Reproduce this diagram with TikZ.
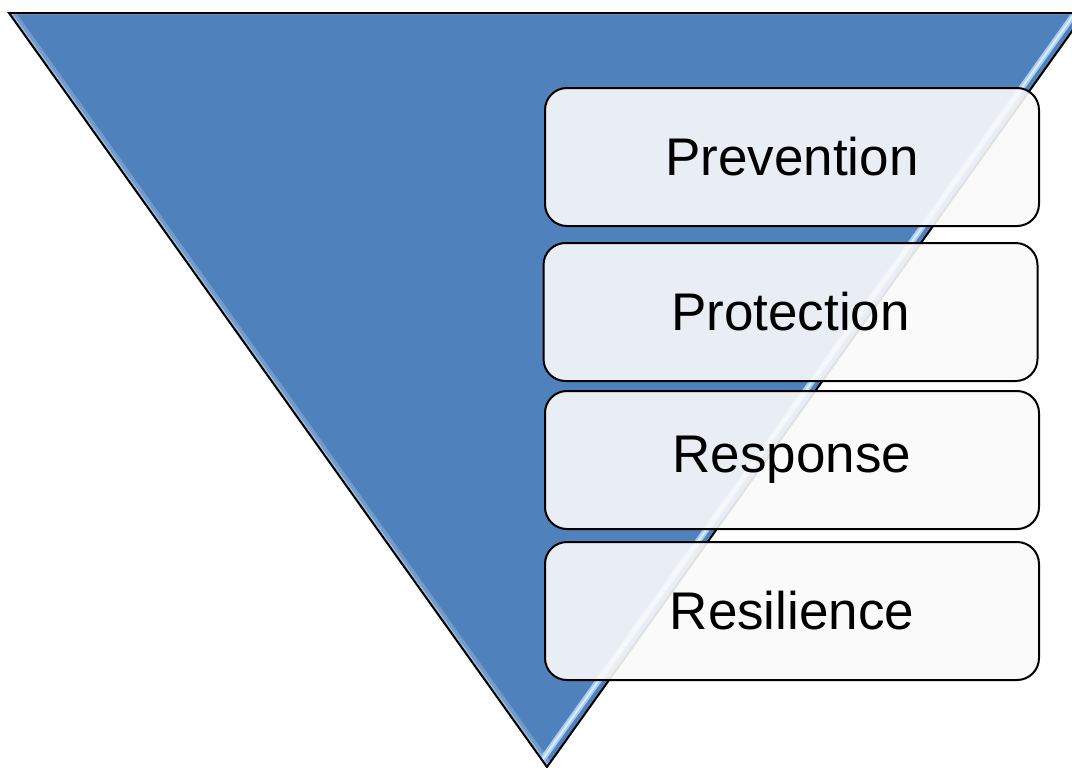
\documentclass[tikz,border=0pt]{standalone}
\usepackage{fontspec}
\setmainfont{Liberation Sans}
\usetikzlibrary{positioning}
\definecolor{funnelBlue}{HTML}{4F81BD}
\definecolor{glint}{HTML}{A9CDF2}
\tikzstyle{layer} = [
    rectangle,
    draw,
    line width = 1pt,
    fill = white!98!black,
    fill opacity = 0.9,
    text opacity = 1,
    text centered,
    rounded corners = 11pt,
    minimum width = 247pt,
    minimum height = 69pt,
    font = \fontsize{26.5}{30}\selectfont
]
\tikzstyle{edge} = [
    line width = 1pt,
    line join = miter
]

\begin{document}
\begin{tikzpicture}[x = 0.5pt, y = -0.5pt]

                \clip (0,0) rectangle (1072,767);

                % Funnel
                \coordinate (topLeft) at (9,13);
                \coordinate (topRight) at (1085,13);
                \coordinate (apex) at (547,767);
                \fill [funnelBlue] (topLeft) -- (topRight) -- (apex) -- cycle;
                \begin{scope}
                    \clip (topLeft) -- (topRight) -- (apex) -- cycle;
                    \draw [white, opacity = 0.2, line width = 6pt] (topLeft) -- (apex);
                    \draw [white, opacity = 0.3, line width = 2.5pt] (topLeft) -- (apex);
                    \draw [white, opacity = 0.25, line width = 2pt] (topLeft) -- (topRight);
                    % light band along the right side
                    \draw [glint, line width = 3pt] ([xshift = -5pt]topRight) -- ([xshift = -5pt]apex);
                    \draw [white, opacity = 0.6, line width = 1pt] ([xshift = -5pt]topRight) -- ([xshift = -5pt]apex);
                \end{scope}
                \draw [edge] (topLeft) -- (topRight) -- (apex) -- cycle;

                % Layers
                \node [layer] (prevention) at (792,157) {Prevention};
                \node [layer, below = 7.5pt of prevention, xshift = -0.75pt] (protection) {Protection};
                \node [layer, below = 4pt of protection, xshift = 0.75pt] (response) {Response};
                \node [layer, below = 5.5pt of response] (resilience) {Resilience};

\end{tikzpicture}
\end{document}
